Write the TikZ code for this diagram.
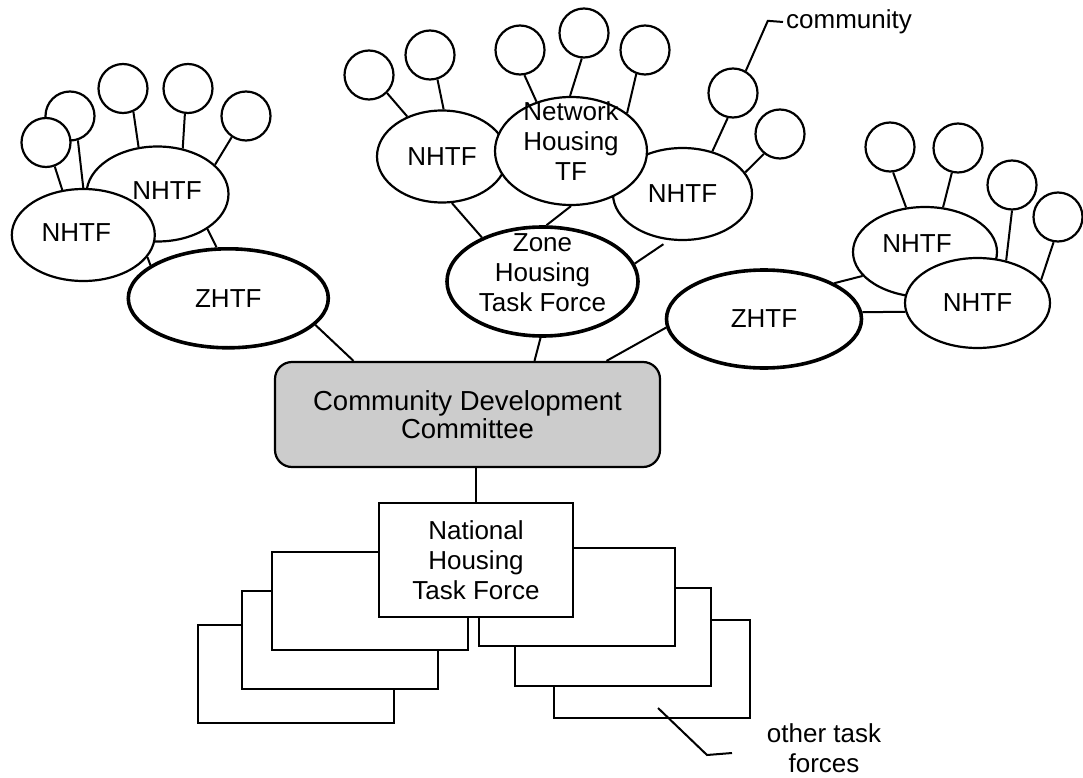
\documentclass[tikz,border=0pt]{standalone}
\usepackage{fontspec}
\setmainfont{Liberation Sans}
\usetikzlibrary{shapes.geometric}

\newcommand{\ovaltext}[1]{\smash{\makebox[0pt]{\begin{tabular}{@{}c@{}}#1\end{tabular}}}}

\begin{document}
\begin{tikzpicture}
    [
        x=1pt, y=-1pt,
        every node/.style={font=\fontsize{26}{30}\selectfont},
        commcircle/.style={circle, draw, fill=white, line width=2.2pt, minimum size=49pt, inner sep=0pt},
        nhtf/.style={ellipse, draw, fill=white, line width=2.2pt, inner sep=0pt, minimum width=142pt, minimum height=92pt},
        zhtf/.style={ellipse, draw, fill=white, line width=3.6pt, inner sep=0pt, minimum width=196pt, minimum height=99pt},
        cdcbox/.style={rectangle, rounded corners=17pt, draw, line width=2.2pt, fill=black!20, minimum width=385pt, minimum height=105pt, align=center, font=\fontsize{27.5}{28}\selectfont},
        nhtfbox/.style={rectangle, draw, fill=white, line width=2pt, minimum width=194pt, minimum height=114pt, align=center},
        taskbox/.style={rectangle, draw, fill=white, line width=2pt, minimum width=196pt, minimum height=98pt},
        link/.style={line width=2pt}
    ]
    \useasboundingbox (0,0) rectangle (1083,778);

    % left zone
    \node[commcircle] (lc2) at (70,116) {};
    \node[commcircle] (lc1) at (46,142.5) {};
    \node[commcircle] (lc3) at (123,88.5) {};
    \node[commcircle] (lc4) at (188,88.5) {};
    \node[commcircle] (lc5) at (246,116) {};
    \node[nhtf, minimum height=95pt, label={[name=ln1txt, xshift=9.5pt, yshift=3pt]center:NHTF}] (ln1) at (157.5,194) {};
    \node[nhtf, minimum width=143pt, label={[name=ln2txt, xshift=-7pt, yshift=2.5pt]center:NHTF}] (ln2) at (83.3,235) {};
    \node[zhtf, minimum width=200pt] (lz) at (228.3,298.3) {ZHTF};

    % middle zone
    \node[commcircle] (mc1) at (369,75) {};
    \node[commcircle] (mc2) at (430,55) {};
    \node[commcircle] (mc3) at (520,50) {};
    \node[commcircle] (mc4) at (584,33) {};
    \node[commcircle] (mc5) at (645,50) {};
    \node[commcircle] (mc6) at (733,93) {};
    \node[commcircle] (mc7) at (780,134) {};
    \node[nhtf, minimum width=130pt] (mn1) at (442,156.5) {NHTF};
    \node[nhtf, minimum width=139pt] (mn2) at (682.5,194) {NHTF};
    \node[nhtf, minimum width=152pt, minimum height=108pt] (mnet) at (571,151) {\ovaltext{Network\\Housing\\TF}};
    \node[zhtf, minimum width=191pt, minimum height=109pt] (zone) at (542.5,281.5) {\ovaltext{Zone\\Housing\\Task Force}};
    \node[anchor=west, inner sep=3pt] (comm) at (783,22) {community};

    % right zone
    \node[commcircle] (rc1) at (890,147) {};
    \node[commcircle] (rc2) at (958,148) {};
    \node[commcircle] (rc3) at (1012,185) {};
    \node[commcircle] (rc4) at (1058,217) {};
    \node[nhtf, minimum width=144pt, minimum height=90pt, label={[name=rn1txt, xshift=-8pt, yshift=8pt]center:NHTF}] (rn1) at (925,252) {};
    \node[nhtf, minimum width=145pt, minimum height=90pt] (rn2) at (977.5,303) {NHTF};
    \node[zhtf, minimum width=195pt, minimum height=98pt] (rz) at (764,319) {ZHTF};

    % committee and task forces
    \node[cdcbox] (cdc) at (467.5,414.5) {Community Development\\Committee};
    \node[taskbox] (tf3) at (296,674) {};
    \node[taskbox] (tf2) at (340,640) {};
    \node[taskbox] (tf1) at (370,601) {};
    \node[taskbox] (tf6) at (651.5,669) {};
    \node[taskbox] (tf5) at (613,637) {};
    \node[taskbox] (tf4) at (576.5,596.5) {};
    \node[nhtfbox] (natl) at (476,560) {National\\Housing\\Task Force};
    \coordinate (tfptr) at (658,708);
    \node[align=center] (othertf) at (824,748) {other task\\forces};

    \draw[link] (lc1.-70) -- (ln2.115);
    \draw[link] (lc2.-72) -- (ln2.90);
    \draw[link] (lc3.-66) -- (ln1.112);
    \draw[link] (lc4.-97) -- (ln1.61);
    \draw[link] (lc5.-124) -- (ln1.27);
    \draw[link] (ln1.-35) -- (lz.103);
    \draw[link] (ln2.-19) -- (lz.157);
    \draw[link] (lz.-17) -- ([xshift=-114pt]cdc.north);

    \draw[link] (mc1.-45) -- (mn1.131);
    \draw[link] (mc2.-73) -- (mn1.88);
    \draw[link] (mc3.-80) -- (mnet.125);
    \draw[link] (mc4.-95) -- (mnet.91);
    \draw[link] (mc5.-110) -- (mnet.34);
    \draw[link] (mc6.-102) -- (mn2.55);
    \draw[link] (mc7.-129) -- (mn2.19);
    \draw[link] (mn1.-78) -- (zone.144);
    \draw[link] (mnet.-90) -- (zone.86);
    \draw[link, shorten <=7pt] (mn2.-106) -- (zone.11);
    \draw[link] (zone.-92) -- ([xshift=67pt]cdc.north);
    \draw[link] (mc6.60) -- ++(22,-50) -- (comm.west);

    \draw[link] (rc1.-83) -- (rn1.113);
    \draw[link] (rc2.-104) -- (rn1.68);
    \draw[link] (rc3.-90) -- (rn2.56);
    \draw[link] (rc4.-100) -- (rn2.20);
    \draw[link] (rz.27) -- (rn1.-159);
    \draw[link] (rz.4) -- (rn2.-173);
    \draw[link] (rz.-175) -- ([xshift=139pt]cdc.north);

    \draw[link] (natl.north |- cdc.south) -- (natl.north);
    \draw[link] (tfptr) -- ++(49,47) -- ++(25,-2);
\end{tikzpicture}
\end{document}
